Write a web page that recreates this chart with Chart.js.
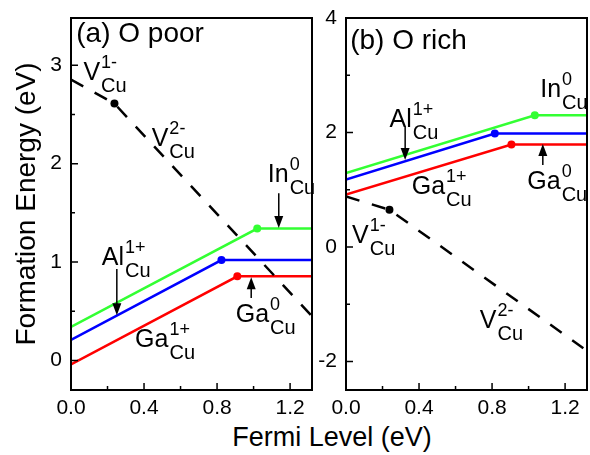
<!DOCTYPE html>
<html>
<head>
<meta charset="utf-8">
<script src="https://cdn.jsdelivr.net/npm/chart.js@4.4.0/dist/chart.umd.min.js"></script>
<style>
  body { margin: 0; background: #fff; }
  #wrap { position: relative; width: 590px; height: 455px; font-family: "Liberation Sans", Arial, sans-serif; }
  .panel { position: absolute; top: 0; height: 420px; }
  #panelA { left: 0; width: 320px; }
  #panelB { left: 318px; width: 272px; }
  #xTitle { position: absolute; left: 132px; width: 400px; top: 424px; text-align: center;
            font-size: 27px; line-height: 27px; color: #000; }
</style>
</head>
<body>
<div id="wrap">
  <div class="panel" id="panelA"><canvas id="chartA"></canvas></div>
  <div class="panel" id="panelB"><canvas id="chartB"></canvas></div>
  <div id="xTitle">Fermi Level (eV)</div>
</div>
<script>
// tick values
const xTicks = [0.0, 0.4, 0.8, 1.2];
const xMinor = [0.2, 0.6, 1.0];
const yTicksA = [0, 1, 2, 3];
const yMinorA = [0.5, 1.5, 2.5];
const yTicksB = [-2, 0, 2, 4];
const yMinorB = [-1, 1, 3];

// (a) O poor : Fermi level (eV) / formation energy (eV)
const xV_a  = [0.0, 0.238, 1.32];
const eV_a  = [2.855, 2.61, 0.45];
const xIn_a = [0.0, 1.02, 1.32];
const eIn_a = [0.34, 1.34, 1.34];
const xAl_a = [0.0, 0.824, 1.32];
const eAl_a = [0.21, 1.02, 1.02];
const xGa_a = [0.0, 0.911, 1.32];
const eGa_a = [-0.04, 0.855, 0.855];

// (b) O rich
const xV_b  = [0.0, 0.238, 1.30];
const eV_b  = [0.88, 0.65, -1.77];
const xIn_b = [0.0, 1.034, 1.32];
const eIn_b = [1.29, 2.30, 2.30];
const xAl_b = [0.0, 0.815, 1.32];
const eAl_b = [1.175, 1.98, 1.98];
const xGa_b = [0.0, 0.906, 1.32];
const eGa_b = [0.914, 1.79, 1.79];

const FONT = '"Liberation Sans", Arial, sans-serif';

// labels placed in data coordinates, arrow = [x, yStart, yTip]
const labelsA = [
    { main: '(a) O poor', x: 0.029, y: 3.234, title: true },
    { main: 'V', sup: '1-', sub: 'Cu', x: 0.068, y: 2.855 },
    { main: 'V', sup: '2-', sub: 'Cu', x: 0.442, y: 2.176 },
    { main: 'In', sup: '0', sub: 'Cu', x: 1.078, y: 1.81, arrow: [1.138, 1.70, 1.345] },
    { main: 'Al', sup: '1+', sub: 'Cu', x: 0.169, y: 0.973, arrow: [0.251, 0.93, 0.46] },
    { main: 'Ga', sup: '1+', sub: 'Cu', x: 0.351, y: 0.135 },
    { main: 'Ga', sup: '0', sub: 'Cu', x: 0.902, y: 0.396, arrow: [0.987, 0.634, 0.845] }
];
const labelsB = [
    { main: '(b) O rich', x: 0.023, y: 3.46, title: true },
    { main: 'In', sup: '0', sub: 'Cu', x: 1.064, y: 2.62 },
    { main: 'Al', sup: '1+', sub: 'Cu', x: 0.238, y: 2.09, arrow: [0.324, 2.1, 1.52] },
    { main: 'Ga', sup: '1+', sub: 'Cu', x: 0.36, y: 0.93 },
    { main: 'Ga', sup: '0', sub: 'Cu', x: 0.993, y: 1.02, arrow: [1.078, 1.43, 1.80] },
    { main: 'V', sup: '1-', sub: 'Cu', x: 0.033, y: 0.06 },
    { main: 'V', sup: '2-', sub: 'Cu', x: 0.733, y: -1.42 }
];

function pts(xs, ys) {
    return xs.map((x, i) => ({ x: x, y: ys[i] }));
}

function lineSet(xs, ys, color, dashed) {
    return {
        data: pts(xs, ys),
        borderColor: color,
        backgroundColor: color,
        borderWidth: 2.5,
        borderDash: dashed ? [14, 13] : [],
        tension: 0,
        pointRadius: ctx => ctx.dataIndex === 1 ? 4 : 0,
        pointHoverRadius: 0,
        pointBorderWidth: 0,
        pointBackgroundColor: color
    };
}

// frame, inward ticks, text labels and arrows
const decorPlugin = {
    id: 'decor',
    afterDatasetsDraw(chart, args, opts) {
        const { ctx, chartArea: a, scales: { x, y } } = chart;
        ctx.save();
        ctx.strokeStyle = '#000';
        ctx.lineWidth = 1.5;
        ctx.beginPath();
        xTicks.forEach(v => { const p = x.getPixelForValue(v); ctx.moveTo(p, a.bottom); ctx.lineTo(p, a.bottom - 7); });
        xMinor.forEach(v => { const p = x.getPixelForValue(v); ctx.moveTo(p, a.bottom); ctx.lineTo(p, a.bottom - 4); });
        opts.yMajor.forEach(v => { const p = y.getPixelForValue(v); ctx.moveTo(a.left, p); ctx.lineTo(a.left + 7, p); });
        opts.yMinor.forEach(v => { const p = y.getPixelForValue(v); ctx.moveTo(a.left, p); ctx.lineTo(a.left + 4, p); });
        ctx.stroke();
        ctx.lineWidth = 2;
        ctx.strokeRect(a.left, a.top, a.width, a.height);

        ctx.fillStyle = '#000';
        ctx.textAlign = 'left';
        ctx.textBaseline = 'alphabetic';
        opts.items.forEach(it => {
            const px = x.getPixelForValue(it.x);
            const py = y.getPixelForValue(it.y);
            ctx.font = (it.title ? 28 : 25) + 'px ' + FONT;
            ctx.fillText(it.main, px, py);
            if (!it.title) {
                const w = ctx.measureText(it.main).width;
                ctx.font = '18px ' + FONT;
                ctx.fillText(it.sup, px + w + 1, py - 12);
                ctx.font = '20px ' + FONT;
                ctx.fillText(it.sub, px + w + 1, py + 12);
            }
            if (it.arrow) {
                const ax = x.getPixelForValue(it.arrow[0]);
                const y0 = y.getPixelForValue(it.arrow[1]);
                const y1 = y.getPixelForValue(it.arrow[2]);
                const dir = y1 > y0 ? 1 : -1;
                ctx.lineWidth = 1.5;
                ctx.beginPath();
                ctx.moveTo(ax, y0);
                ctx.lineTo(ax, y1 - dir * 8);
                ctx.stroke();
                ctx.beginPath();
                ctx.moveTo(ax, y1);
                ctx.lineTo(ax - 4.5, y1 - dir * 12);
                ctx.lineTo(ax + 4.5, y1 - dir * 12);
                ctx.closePath();
                ctx.fill();
            }
        });
        ctx.restore();
    }
};

function makePanel(id, sets, yMin, yMax, yTicks, yMinor, items, yWidth, padRight, yTitle) {
    return new Chart(document.getElementById(id), {
        type: 'line',
        data: { datasets: sets },
        plugins: [decorPlugin],
        options: {
            responsive: true,
            maintainAspectRatio: false,
            animation: false,
            layout: { padding: { top: 18, right: padRight, left: 0, bottom: 0 } },
            plugins: {
                legend: { display: false },
                tooltip: { enabled: false },
                decor: { items: items, yMajor: yTicks, yMinor: yMinor }
            },
            scales: {
                x: {
                    type: 'linear',
                    min: 0,
                    max: 1.32,
                    grid: { display: false, drawTicks: false },
                    border: { display: false },
                    afterBuildTicks: s => { s.ticks = xTicks.map(v => ({ value: v })); },
                    afterFit: s => { s.height = 30; s.paddingLeft = 0; s.paddingRight = 0; },
                    ticks: {
                        padding: 6,
                        color: '#000',
                        font: { family: FONT, size: 21 },
                        maxRotation: 0,
                        callback: v => v.toFixed(1)
                    }
                },
                y: {
                    min: yMin,
                    max: yMax,
                    grid: { display: false, drawTicks: false },
                    border: { display: false },
                    afterBuildTicks: s => { s.ticks = yTicks.map(v => ({ value: v })); },
                    afterFit: s => { s.width = yWidth; s.paddingTop = 0; s.paddingBottom = 0; },
                    ticks: {
                        padding: 9,
                        color: '#000',
                        font: { family: FONT, size: 21 },
                        callback: v => String(v)
                    },
                    title: {
                        display: !!yTitle,
                        text: yTitle || '',
                        color: '#000',
                        font: { family: FONT, size: 28 },
                        padding: { top: 10, bottom: 0 }
                    }
                }
            }
        }
    });
}

makePanel('chartA', [
    lineSet(xV_a, eV_a, '#000000', true),
    lineSet(xIn_a, eIn_a, '#33ff33', false),
    lineSet(xAl_a, eAl_a, '#0000ff', false),
    lineSet(xGa_a, eGa_a, '#ff0000', false)
], -0.3, 3.48, yTicksA, yMinorA, labelsA, 71, 8, 'Formation Energy (eV)');

makePanel('chartB', [
    lineSet(xV_b, eV_b, '#000000', true),
    lineSet(xIn_b, eIn_b, '#33ff33', false),
    lineSet(xAl_b, eAl_b, '#0000ff', false),
    lineSet(xGa_b, eGa_b, '#ff0000', false)
], -2.5, 4.0, yTicksB, yMinorB, labelsB, 28, 3, null);
</script>
</body>
</html>
